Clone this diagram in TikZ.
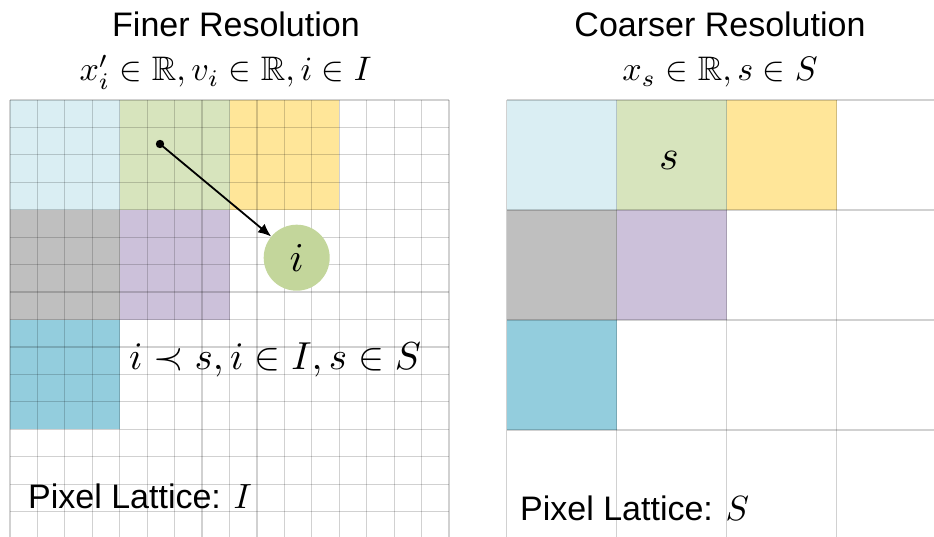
\documentclass[tikz,border=0pt]{standalone}
\usepackage{fontspec}
\setmainfont{Liberation Sans}
\usepackage{amssymb}
\usepackage{graphicx}
\usetikzlibrary{arrows.meta}
\definecolor{cLB}{HTML}{DAEEF3}
\definecolor{cGR}{HTML}{D7E4BD}
\definecolor{cYL}{HTML}{FFE699}
\definecolor{cGY}{HTML}{BFBFBF}
\definecolor{cPU}{HTML}{CCC1DA}
\definecolor{cTL}{HTML}{93CDDD}
\definecolor{cCI}{HTML}{C3D69B}
\newcommand{\mth}[2]{\scalebox{#1}{\fontsize{10}{12}\selectfont$#2$}}
\tikzset{
  gridline/.style={draw=black, draw opacity=0.18, line width=1.2pt},
  title/.style={font=\fontsize{34}{40}\selectfont, inner sep=0pt},
  lbl/.style={font=\fontsize{34}{40}\selectfont, inner sep=0pt},
  mathlbl/.style={inner sep=0pt},
}
\begin{document}
\begin{tikzpicture}[x=1pt,y=-1pt]
\useasboundingbox (0,0) rectangle (934,537);
\fill[white] (0,0) rectangle (934,537);
\clip (0,0) rectangle (934,537);
% ---------- left (fine) lattice ----------
\def\c{27.44}
\fill[cLB] (10,100) rectangle ++(4*\c,4*\c);
\fill[cGR] (10+4*\c,100) rectangle ++(4*\c,4*\c);
\fill[cYL] (10+8*\c,100) rectangle ++(4*\c,4*\c);
\fill[cGY] (10,100+4*\c) rectangle ++(4*\c,4*\c);
\fill[cPU] (10+4*\c,100+4*\c) rectangle ++(4*\c,4*\c);
\fill[cTL] (10,100+8*\c) rectangle ++(4*\c,4*\c);
\foreach \k in {0,...,16}{
  \draw[gridline] (10+\k*\c,100) -- (10+\k*\c,545);
  \draw[gridline] (10,100+\k*\c) -- (10+16*\c,100+\k*\c);
}
% ---------- right (coarse) lattice ----------
\def\C{110}
\fill[cLB] (506.7,100) rectangle ++(\C,\C);
\fill[cGR] (506.7+\C,100) rectangle ++(\C,\C);
\fill[cYL] (506.7+2*\C,100) rectangle ++(\C,\C);
\fill[cGY] (506.7,100+\C) rectangle ++(\C,\C);
\fill[cPU] (506.7+\C,100+\C) rectangle ++(\C,\C);
\fill[cTL] (506.7,100+2*\C) rectangle ++(\C,\C);
\foreach \k in {0,...,3}{
  \draw[gridline] (506.7+\k*\C,100) -- (506.7+\k*\C,545);
  \draw[gridline] (506.7,100+\k*\C) -- (940,100+\k*\C);
}
% ---------- titles ----------
\node[title, anchor=base] (t1) at (236,37) {Finer Resolution};
\node[title, anchor=base] (t2) at (720,37) {Coarser Resolution};
\node[mathlbl, anchor=base] (m1) at (225.5,81) {\mth{3.4}{x_i'\in\mathbb{R}, v_i\in\mathbb{R}, i\in I}};
\node[mathlbl, anchor=base] (m2) at (720,81) {\mth{3.4}{x_s\in\mathbb{R}, s\in S}};
% ---------- contents ----------
\node[circle, fill=cCI, minimum size=66pt, inner sep=0pt] (ci) at (296.7,257.7) {\mth{4.1}{i}};
\coordinate (dot) at (160,144);
\fill (dot) circle (4.2);
\draw[line width=1.8pt, -{Latex[length=13pt,width=11pt]}] (dot) -- (ci);
\node[mathlbl] (sl) at (669,160) {\mth{4.2}{s}};
\node[mathlbl, anchor=base west] (rel) at (129,369) {\mth{3.9}{i\prec s, i\in I, s\in S}};
\node[lbl, anchor=base west] (pl1) at (28,508) {Pixel Lattice: \mth{3.5}{I}};
\node[lbl, anchor=base west] (pl2) at (520,520) {Pixel Lattice: \mth{3.5}{S}};
\end{tikzpicture}
\end{document}
